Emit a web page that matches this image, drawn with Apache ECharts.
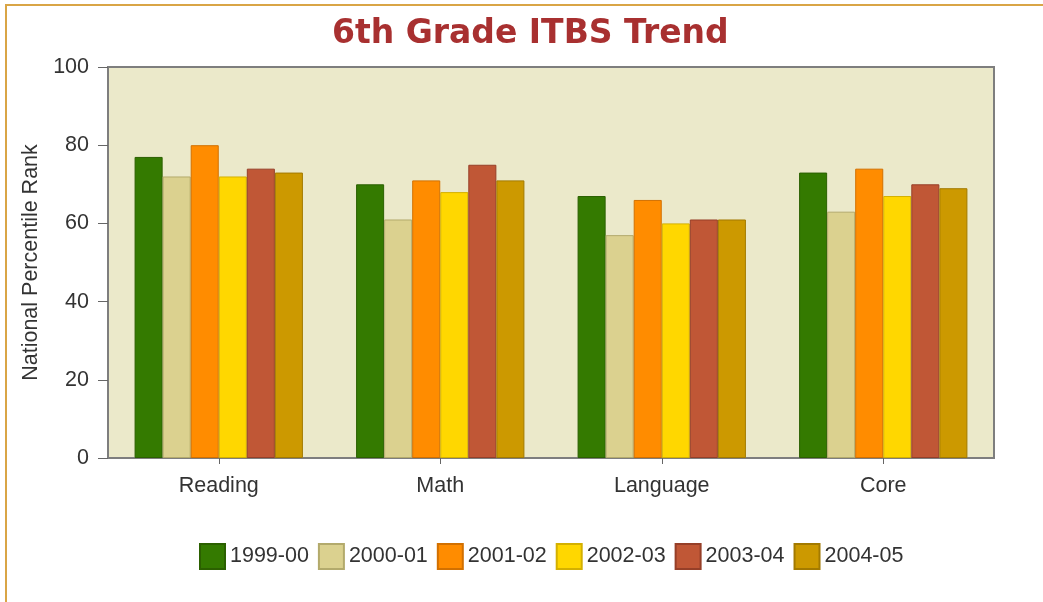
<!DOCTYPE html>
<html>
<head>
<meta charset="utf-8">
<script src="https://cdn.jsdelivr.net/npm/echarts@6/dist/echarts.min.js"></script>
<style>
  html, body { margin: 0; padding: 0; background: #fff; }
  #frame {
    position: absolute; left: 5px; top: 4px; width: 1100px; height: 700px;
    border-top: 2px solid #D9A546; border-left: 2px solid #D9A546;
  }
  #chart { position: absolute; left: 0; top: 0; width: 1043px; height: 602px; }
</style>
</head>
<body>
<div id="frame"></div>
<div id="chart"></div>
<script>
const categories = ['Reading', 'Math', 'Language', 'Core'];
const seriesNames = ['1999-00', '2000-01', '2001-02', '2002-03', '2003-04', '2004-05'];
const values1999 = [77, 70, 67, 73];
const values2000 = [72, 61, 57, 63];
const values2001 = [80, 71, 66, 74];
const values2002 = [72, 68, 60, 67];
const values2003 = [74, 75, 61, 70];
const values2004 = [73, 71, 61, 69];
const yTicks = [0, 20, 40, 60, 80, 100];

const seriesValues = [values1999, values2000, values2001, values2002, values2003, values2004];
const fills = ['#347A00', '#DBD18F', '#FF8C00', '#FFD700', '#C05736', '#CC9900'];
const borders = ['#2B6000', '#B3AA6C', '#D27000', '#D4B000', '#963F28', '#A37A00'];

const chart = echarts.init(document.getElementById('chart'));

chart.setOption({
  animation: false,
  textStyle: { fontFamily: 'Liberation Sans, Arial, sans-serif' },
  title: {
    text: '6th Grade ITBS Trend',
    left: 327,
    top: 13,
    textStyle: {
      fontFamily: 'DejaVu Sans, Verdana, sans-serif',
      fontWeight: 'bold',
      fontSize: 33,
      color: '#A83030'
    }
  },
  grid: {
    left: 108,
    top: 67,
    right: 49,
    bottom: 144,
    show: true,
    backgroundColor: '#EBE9CA',
    borderColor: '#7E7E7E',
    borderWidth: 2
  },
  legend: {
    top: 538,
    left: 194,
    itemWidth: 25,
    itemHeight: 25,
    itemGap: 9,
    icon: 'rect',
    textStyle: { fontSize: 21.5, color: '#333' },
    data: seriesNames
  },
  xAxis: {
    type: 'category',
    data: categories,
    axisLine: { show: true, lineStyle: { color: '#7E7E7E', width: 2 } },
    axisTick: { show: true, alignWithLabel: true, length: 6, lineStyle: { color: '#666' } },
    axisLabel: { fontSize: 21.5, color: '#333', margin: 17 }
  },
  yAxis: {
    type: 'value',
    min: yTicks[0],
    max: yTicks[yTicks.length - 1],
    interval: 20,
    name: 'National Percentile Rank',
    nameLocation: 'middle',
    nameGap: 62,
    nameTextStyle: { fontSize: 21.5, color: '#333' },
    axisLine: { show: true, lineStyle: { color: '#7E7E7E', width: 2 } },
    axisTick: { show: true, length: 10, lineStyle: { color: '#666' } },
    axisLabel: { fontSize: 21.5, color: '#333', margin: 19 },
    splitLine: { show: false }
  },
  series: seriesNames.map((name, i) => ({
    name,
    type: 'bar',
    data: seriesValues[i],
    barGap: '0%',
    barCategoryGap: '24%',
    itemStyle: { color: fills[i], borderColor: borders[i], borderWidth: 1 }
  }))
});
</script>
</body>
</html>
